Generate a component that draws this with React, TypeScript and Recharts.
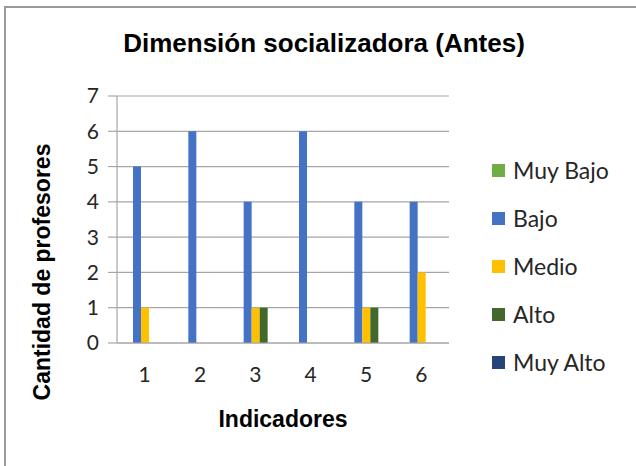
import { BarChart, Bar, XAxis, YAxis, CartesianGrid } from 'recharts';

const indicadores = ['1', '2', '3', '4', '5', '6'];
const muyBajo = [0, 0, 0, 0, 0, 0];
const bajo = [5, 6, 4, 6, 4, 4];
const medio = [1, 0, 1, 0, 1, 2];
const alto = [0, 0, 1, 0, 1, 0];
const muyAlto = [0, 0, 0, 0, 0, 0];
const yTicks = [0, 1, 2, 3, 4, 5, 6, 7];

const series = [
    { key: 'muyBajo', name: 'Muy Bajo', color: '#70AD47' },
    { key: 'bajo', name: 'Bajo', color: '#4472C4' },
    { key: 'medio', name: 'Medio', color: '#FFC000' },
    { key: 'alto', name: 'Alto', color: '#43682B' },
    { key: 'muyAlto', name: 'Muy Alto', color: '#264478' },
];

const data = indicadores.map((cat, i) => ({
    cat,
    muyBajo: muyBajo[i],
    bajo: bajo[i],
    medio: medio[i],
    alto: alto[i],
    muyAlto: muyAlto[i],
}));

const tickFont = { fill: '#262626', fontSize: 21, fontFamily: 'Lato, "Open Sans", sans-serif' };
const boldFont = '"Liberation Sans", Arial, sans-serif';

function LegendBox() {
    return (
        <div
            style={{
                position: 'absolute',
                left: 492,
                top: 146,
                fontFamily: 'Lato, "Open Sans", sans-serif',
                fontSize: 23,
                color: '#262626',
            }}
        >
            {series.map((s) => (
                <div key={s.key} style={{ display: 'flex', alignItems: 'center', height: 48 }}>
                    <span style={{ width: 13, height: 13, background: s.color, marginRight: 8, display: 'inline-block' }} />
                    <span>{s.name}</span>
                </div>
            ))}
        </div>
    );
}

function YLabel() {
    return (
        <text
            x={42}
            y={272}
            transform="rotate(-90, 42, 272)"
            textAnchor="middle"
            dominantBaseline="central"
            fontFamily={boldFont}
            fontWeight="bold"
            fontSize={23}
            fill="#000"
        >
            Cantidad de profesores
        </text>
    );
}

export default function App() {
    return (
        <div style={{ position: 'absolute', left: 0, top: 0, width: 636, height: 466, background: '#fff', overflow: 'hidden' }}>
            <div style={{ position: 'absolute', left: 4, top: 6, right: -4, bottom: -4, borderLeft: '2px solid #9a9a9a', borderTop: '2px solid #9a9a9a' }} />
            <div
                style={{
                    position: 'absolute',
                    left: 0,
                    width: 648,
                    top: 28,
                    textAlign: 'center',
                    fontFamily: boldFont,
                    fontWeight: 'bold',
                    fontSize: 26,
                    color: '#000',
                }}
            >
                Dimensión socializadora (Antes)
            </div>
            <BarChart
                width={636}
                height={466}
                data={data}
                margin={{ top: 96, right: 187, left: 0, bottom: 33 }}
                barSize={8}
                barGap={0}
                style={{ position: 'absolute', left: 0, top: 0 }}
            >
                <CartesianGrid vertical={false} stroke="#A6A6A6" strokeWidth={1.2} />
                <XAxis
                    dataKey="cat"
                    height={90}
                    tick={tickFont}
                    tickSize={0}
                    tickMargin={24}
                    axisLine={{ stroke: '#A6A6A6', strokeWidth: 1.2 }}
                    label={{ value: 'Indicadores', position: 'insideBottom', offset: 6, fontFamily: boldFont, fontWeight: 'bold', fontSize: 23, fill: '#000' }}
                />
                <YAxis
                    width={117}
                    domain={[0, 7]}
                    ticks={yTicks}
                    interval={0}
                    tick={tickFont}
                    tickSize={9}
                    tickMargin={9}
                    tickLine={{ stroke: '#A6A6A6', strokeWidth: 1.2 }}
                    axisLine={{ stroke: '#A6A6A6', strokeWidth: 1.2 }}
                    label={<YLabel />}
                />
                {series.map((s) => (
                    <Bar key={s.key} dataKey={s.key} name={s.name} fill={s.color} isAnimationActive={false} />
                ))}
            </BarChart>
            <LegendBox />
        </div>
    );
}
